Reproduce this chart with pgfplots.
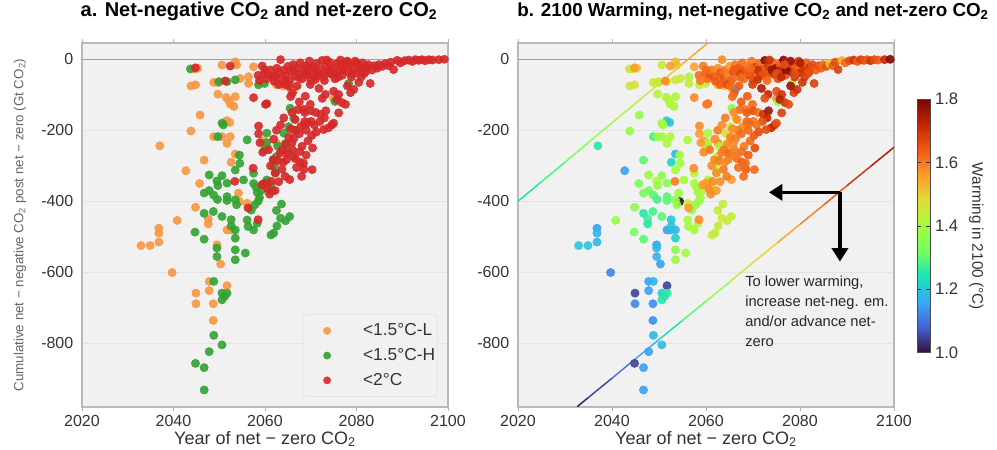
\documentclass[border=0pt]{standalone}
\usepackage{fontspec}
\setmainfont{Liberation Sans}
\usepackage{pgfplots}
\usepackage{pgfplotstable}
\pgfplotsset{compat=1.18}
\usetikzlibrary{arrows.meta}
\definecolor{bgc}{RGB}{241,241,241}
\definecolor{cor}{RGB}{246,152,66}
\definecolor{cgr}{RGB}{50,163,50}
\definecolor{cre}{RGB}{214,40,40}
\pgfplotsset{colormap={turbo}{rgb255=(48,18,59) rgb255=(70,98,216) rgb255=(54,170,249) rgb255=(26,228,182) rgb255=(114,254,94) rgb255=(164,252,60) rgb255=(225,221,55) rgb255=(254,155,45) rgb255=(240,91,18) rgb255=(196,37,3) rgb255=(122,4,3)}}

\pgfplotstableread{
x y w
2037.0 -244 1.25
2032.9 -525 1.20
2034.9 -525 1.20
2036.8 -515 1.18
2036.8 -476 1.15
2036.8 -490 1.18
2039.7 -601 1.12
2040.8 -454 1.38
2042.7 -314 1.15
2043.8 -202 1.38
2045.8 -157 1.38
2043.8 -75 1.45
2044.8 -72 1.47
2044.6 -27 1.47
2045.3 -25 1.50
2046.7 -284 1.30
2045.7 -350 1.33
2044.8 -417 1.36
2047.6 -450 1.28
2047.6 -464 1.25
2044.9 -659 1.05
2044.9 -689 1.12
2047.8 -626 1.15
2047.8 -652 1.15
2048.7 -689 1.13
2048.7 -736 1.13
2049.5 -523 1.15
2050.3 -577 1.15
2051.7 -638 1.05
2051.7 -481 1.15
2052.4 -481 1.18
2048.8 -65 1.45
2048.8 -218 1.28
2050.6 -218 1.40
2049.8 -66 1.45
2050.6 -16 1.45
2049.7 -98 1.42
2051.5 -107 1.42
2052.0 -115 1.42
2052.4 -126 1.40
2053.2 -133 1.42
2053.5 -105 1.42
2051.6 -173 1.22
2052.3 -178 1.20
2052.4 -218 1.40
2051.7 -237 1.40
2052.6 -290 1.22
2053.5 -267 1.18
2053.8 -16 1.50
2053.5 -7 1.52
2054.6 -54 1.45
2056.4 -49 1.42
2056.4 -68 1.45
2057.5 -21 1.55
2054.2 -377 1.40
2054.4 -401 1.00
2056.1 -406 1.45
2060.4 -246 1.52
2059.6 -230 1.55
2062.6 -237 1.58
2065.5 -82 1.52
2066.3 -85 1.15
2075.0 -111 1.58
2064.0 -75 1.52
2062.5 -72 1.52
}\orangedata

\pgfplotstableread{
x y w
2043.7 -27 1.45
2044.8 -857 1.05
2046.7 -869 1.15
2046.7 -932 1.15
2047.8 -824 1.15
2048.8 -778 1.18
2050.6 -805 1.18
2048.8 -626 1.18
2050.6 -659 1.22
2050.6 -678 1.25
2051.7 -659 1.25
2051.2 -668 1.25
2044.7 -487 1.33
2046.7 -507 1.30
2046.7 -434 1.25
2047.8 -326 1.38
2046.7 -377 1.33
2047.8 -370 1.32
2048.8 -383 1.30
2049.6 -395 1.28
2048.7 -429 1.28
2049.5 -343 1.40
2049.7 -356 1.38
2050.6 -328 1.36
2051.7 -349 1.35
2051.7 -387 1.30
2051.7 -398 1.30
2050.6 -180 1.40
2050.9 -185 1.40
2049.7 -218 1.38
2049.9 -63 1.45
2051.7 -63 1.45
2053.5 -58 1.45
2050.6 -443 1.30
2049.5 -532 1.18
2049.5 -556 1.18
2052.6 -452 1.20
2052.6 -470 1.20
2053.5 -481 1.18
2053.5 -504 1.22
2053.5 -537 1.36
2053.5 -565 1.38
2053.5 -396 1.36
2053.8 -410 1.38
2053.5 -312 1.40
2054.4 -270 1.40
2054.5 -293 1.40
2055.3 -340 1.40
2056.1 -227 1.40
2055.7 -546 1.40
2056.3 -471 1.40
2056.1 -453 1.40
2057.5 -481 1.40
2058.3 -462 1.42
2057.5 -321 1.42
2057.5 -350 1.40
2058.0 -360 1.40
2058.3 -375 1.38
2058.8 -390 1.40
2059.2 -370 1.42
2058.5 -400 1.38
2057.8 -410 1.38
2057.0 -425 1.38
2059.5 -352 1.42
2058.6 -72 1.45
2059.9 -68 1.45
2059.9 -255 1.40
2060.4 -208 1.40
2060.4 -235 1.42
2061.8 -283 1.42
2062.0 -300 1.42
2062.3 -321 1.42
2060.4 -340 1.42
2061.2 -356 1.42
2061.6 -371 1.42
2062.5 -274 1.42
2062.8 -245 1.42
2064.1 -208 1.46
2064.5 -237 1.42
2064.9 -258 1.42
2065.2 -190 1.46
2065.5 -138 1.36
2066.3 -166 1.46
2066.4 -200 1.42
2062.5 -426 1.44
2063.4 -448 1.46
2062.6 -470 1.44
2061.9 -490 1.44
2061.3 -495 1.44
2063.6 -408 1.44
2064.5 -455 1.44
2065.4 -443 1.44
2078.3 -68 1.40
2075.3 -119 1.38
}\greendata

\pgfplotstableread{
x y w
2058.5 -45 1.62
2059.4 -19 1.60
2059.8 -40 1.63
2060.3 -55 1.62
2060.8 -43 1.65
2061.2 -30 1.60
2061.8 -50 1.66
2062.3 -47 1.62
2062.6 -25 1.58
2063.0 -38 1.64
2063.4 -1 1.58
2063.8 -55 1.66
2064.2 -30 1.62
2064.6 -45 1.60
2065.0 -20 1.56
2065.4 -60 1.64
2065.8 -35 1.66
2066.2 -15 1.60
2066.6 -48 1.62
2067.0 -25 1.66
2067.3 -40 1.68
2067.7 -10 1.62
2068.1 -55 1.62
2068.5 -30 1.66
2068.9 -18 1.60
2069.3 -45 1.68
2069.7 -5 1.60
2070.1 -35 1.66
2070.5 -22 1.70
2070.9 -50 1.62
2071.3 -12 1.62
2071.7 -40 1.72
2072.1 -28 1.66
2072.5 -3 1.78
2072.9 -48 1.64
2073.3 -18 1.70
2073.7 -35 1.66
2074.1 -8 1.62
2074.5 -42 1.70
2074.9 -25 1.78
2075.3 -55 1.66
2075.7 -12 1.64
2076.1 -32 1.72
2076.5 -2 1.78
2076.9 -45 1.66
2077.3 -20 1.70
2077.7 -8 1.66
2078.1 -35 1.74
2078.5 -15 1.66
2078.9 -50 1.70
2079.3 -25 1.64
2079.7 -5 1.68
2080.1 -38 1.72
2080.5 -18 1.66
2080.9 -28 1.70
2081.3 -10 1.64
2081.7 -40 1.66
2082.1 -22 1.70
2082.6 -15 1.66
2083.0 -68 1.68
2083.4 -30 1.64
2083.9 -18 1.66
2084.5 -25 1.64
2084.9 -15 1.62
2085.6 -20 1.66
2086.3 -12 1.52
2087.0 -18 1.64
2087.5 -8 1.66
2088.1 -29 1.68
2088.9 -3 1.54
2089.6 -10 1.62
2090.5 -4 1.66
2091.4 -2 1.70
2092.2 -6 1.64
2092.9 -1 1.68
2093.6 -3 1.66
2094.3 -1 1.64
2095.0 -4 1.70
2095.8 -1 1.66
2096.6 -2 1.64
2098.0 -1 1.72
2099.2 0 1.79
2066.0 -28 1.64
2067.5 -52 1.62
2069.0 -38 1.64
2070.0 -60 1.66
2071.0 -30 1.70
2072.0 -45 1.66
2073.0 -60 1.62
2074.0 -30 1.76
2075.0 -40 1.66
2076.0 -50 1.72
2077.0 -30 1.78
2078.0 -5 1.76
2079.0 -40 1.66
2080.0 -10 1.74
2081.0 -50 1.68
2082.0 -35 1.66
2076.7 -15 1.66
2073.5 -2 1.70
2069.5 -25 1.62
2064.5 -65 1.62
2062.0 -62 1.64
2060.0 -30 1.62
2058.8 -60 1.60
2063.0 -71 1.64
2064.5 -71 1.66
2065.2 -75 1.62
2067.0 -75 1.64
2068.8 -104 1.64
2069.9 -71 1.68
2071.0 -57 1.70
2073.2 -99 1.72
2075.0 -90 1.66
2076.1 -99 1.70
2075.7 -113 1.74
2076.8 -122 1.70
2077.6 -127 1.66
2078.7 -94 1.68
2079.4 -85 1.70
2076.1 -151 1.68
2069.9 -127 1.62
2068.5 -141 1.60
2060.4 -125 1.62
2057.5 -108 1.58
2060.1 -127 1.60
2071.8 -82 1.74
2072.5 -110 1.66
2066.0 -95 1.64
2080.5 -65 1.70
2078.0 -75 1.76
2070.0 -145 1.66
2071.1 -150 1.62
2072.2 -155 1.70
2073.3 -145 1.76
2073.0 -165 1.72
2072.0 -175 1.66
2070.8 -185 1.62
2070.1 -175 1.60
2069.3 -180 1.62
2068.5 -185 1.60
2067.8 -190 1.58
2074.6 -185 1.70
2073.9 -193 1.72
2072.8 -198 1.66
2075.0 -180 1.66
2066.6 -170 1.58
2068.7 -175 1.62
2068.7 -150 1.64
2067.2 -142 1.62
2064.1 -165 1.60
2065.9 -150 1.58
2066.8 -200 1.60
2067.5 -210 1.62
2066.3 -223 1.60
2065.9 -235 1.58
2065.2 -220 1.60
2064.5 -240 1.58
2063.8 -255 1.60
2064.8 -265 1.62
2066.0 -255 1.60
2066.6 -280 1.62
2067.7 -290 1.64
2066.9 -305 1.62
2068.5 -310 1.64
2070.3 -311 1.62
2068.1 -245 1.60
2069.4 -230 1.62
2070.2 -215 1.64
2071.2 -205 1.66
2069.0 -200 1.62
2065.6 -196 1.58
2061.8 -283 1.58
2063.3 -264 1.60
2064.7 -283 1.60
2066.2 -274 1.60
2067.6 -260 1.62
2068.4 -293 1.62
2065.4 -339 1.56
2063.7 -310 1.60
2062.2 -320 1.58
2061.2 -300 1.58
2062.8 -286 1.60
2064.0 -290 1.58
2063.0 -345 1.58
2064.4 -330 1.60
2060.0 -349 1.56
2061.4 -344 1.58
2059.3 -354 1.56
2060.6 -365 1.58
2062.2 -370 1.56
2061.0 -380 1.58
2057.4 -307 1.58
2056.3 -419 1.56
2058.5 -452 1.58
2053.4 -344 1.60
2058.6 -188 1.58
2058.6 -210 1.56
2058.9 -235 1.56
2059.5 -262 1.58
2060.8 -255 1.60
2061.9 -225 1.58
2062.5 -200 1.60
2063.4 -185 1.58
2065.6 -105 1.62
2067.5 -120 1.64
2044.8 -24 1.56
2052.4 -19 1.56
2051.3 -61 1.58
2068.0 -330 1.62
2069.0 -270 1.64
2070.4 -250 1.66
}\reddata

\begin{document}
\begin{tikzpicture}
\pgfplotsset{
  panel/.style={
    scale only axis, height=273pt,
    xmin=2020, xmax=2100, ymin=-980, ymax=46,
    enlargelimits=false,
    xtick={2020,2040,2060,2080,2100},
    ytick={-800,-600,-400,-200,0},
    /pgf/number format/1000 sep={},
    /pgf/number format/assume math mode=true,
    axis background/.style={fill=bgc},
    axis line style={draw=gray!55, line width=0.8pt},
    ymajorgrids, grid style={draw=gray!22, line width=0.8pt},
    tick align=outside, xtick style={draw=gray!60, line width=0.6pt},
    ytick style={draw=none},
    major tick length=3pt,
    tick label style={font=\fontsize{12}{14}\selectfont, text=black!80},
    xlabel={Year of net − zero CO\textsubscript{2}},
    every axis x label/.style={at={(axis description cs:0.5,0)}, anchor=center, yshift=-24pt, font=\fontsize{13.5}{15}\selectfont, text=black!80},
    title style={anchor=base, yshift=0pt},
  }
}
% ---------------- panel a ----------------
\begin{axis}[panel, width=274.5pt, at={(0,0)}, anchor=south west,
  title={a. Net-negative CO\textsubscript{2} and net-zero CO\textsubscript{2}},
  title style={at={(0.4836,1)}, yshift=14pt, font=\bfseries\fontsize{15}{17}\selectfont},
  ylabel={Cumulative net − negative CO\textsubscript{2} post net − zero (Gt CO\textsubscript{2})},
  every axis y label/.style={at={(axis description cs:-0.1694,0.5)}, rotate=90, anchor=center, font=\fontsize{10}{12}\selectfont, text=black!60},
  legend style={at={(1,0)}, anchor=south east, xshift=-7.5pt, yshift=7.5pt, fill=bgc, draw=gray!25, rounded corners=3pt, font=\fontsize{13}{15}\selectfont, inner xsep=0pt, inner ysep=5pt, row sep=4pt, text=black!80},
  legend cell align=left,
  legend image code/.code={\path[draw=none, fill=none, rounded corners=0pt] (0pt,-3pt) rectangle (43pt,3pt); \fill[#1] (18pt,0pt) circle (2.7pt);},
]
\addplot[gray!75, line width=1.1pt, forget plot] coordinates {(2020,0) (2100,0)};
\addplot[only marks, mark=*, mark size=3.1pt, color=cor, fill opacity=0.9, draw opacity=0.9] table[x=x,y=y] \orangedata;
\addlegendentry{<1.5°C-L}
\addplot[only marks, mark=*, mark size=3.1pt, color=cgr, fill opacity=0.9, draw opacity=0.9] table[x=x,y=y] \greendata;
\addlegendentry{<1.5°C-H}
\addplot[only marks, mark=*, mark size=3.1pt, color=cre, fill opacity=0.9, draw opacity=0.9] table[x=x,y=y] \reddata;
\addlegendentry{<2°C}
\end{axis}
% ---------------- panel b ----------------
\begin{axis}[panel, width=282pt, at={(327pt,0)}, anchor=south west,
  title={b. 2100 Warming, net-negative CO\textsubscript{2} and net-zero CO\textsubscript{2}},
  title style={at={(0.625,1)}, yshift=14pt, font=\bfseries\fontsize{14.1}{17}\selectfont},
  colormap name=turbo, point meta min=1.0, point meta max=1.8,
  colorbar,
  colorbar style={at={(parent axis.north east)}, anchor=north west, xshift=9pt, yshift=-42pt,
    width=9.75pt, height=190pt,
    ytick={1.0,1.2,1.4,1.6,1.8},
    yticklabel style={font=\fontsize{12.5}{14}\selectfont, text=black!80, /pgf/number format/.cd, fixed, fixed zerofill, precision=1, assume math mode=true},
    ytick style={draw=black!80},
    major tick length=3pt,
    axis line style={draw=black!70, line width=0.5pt},
    ylabel={Warming in 2100 (°C)},
    ylabel style={at={(axis description cs:4.54,0.458)}, anchor=center, rotate=180, font=\fontsize{11.5}{13}\selectfont, text=black!80},
  },
]
\addplot[gray!75, line width=1.1pt, forget plot] coordinates {(2020,0) (2100,0)};
\addplot[mesh, point meta=explicit, line width=1.1pt, forget plot] coordinates {
 (2020,-400) [1.22] (2025,-345) [1.26] (2030,-290) [1.31] (2035,-234) [1.35] (2040,-179) [1.40]
 (2045,-124) [1.44] (2050,-69) [1.48] (2055,-13) [1.52] (2060.4,46) [1.56]};
\addplot[mesh, point meta=explicit, line width=1.1pt, forget plot] coordinates {
 (2032.6,-979) [1.00] (2035,-953) [1.03] (2040,-899) [1.08] (2045,-844) [1.13] (2050,-790) [1.20]
 (2055,-736) [1.27] (2060,-682) [1.34] (2065,-628) [1.40] (2070,-573) [1.46] (2075,-519) [1.52]
 (2080,-465) [1.57] (2085,-411) [1.62] (2090,-356) [1.67] (2095,-302) [1.72] (2100,-248) [1.77]};
\addplot[scatter, only marks, mark=*, mark size=3.1pt, scatter src=explicit,
  scatter/use mapped color={draw=mapped color, fill=mapped color}, fill opacity=0.9, draw opacity=0.9]
  table[x=x,y=y,meta=w] \orangedata;
\addplot[scatter, only marks, mark=*, mark size=3.1pt, scatter src=explicit,
  scatter/use mapped color={draw=mapped color, fill=mapped color}, fill opacity=0.9, draw opacity=0.9]
  table[x=x,y=y,meta=w] \greendata;
\addplot[scatter, only marks, mark=*, mark size=3.1pt, scatter src=explicit,
  scatter/use mapped color={draw=mapped color, fill=mapped color}, fill opacity=0.9, draw opacity=0.9]
  table[x=x,y=y,meta=w] \reddata;
\draw[line width=2.6pt, -{Triangle[length=10pt,width=12pt]}] (axis cs:2088.5,-375) -- (axis cs:2073.4,-375);
\draw[line width=2.6pt, -{Triangle[length=10pt,width=12pt]}] (axis cs:2088.5,-375) -- (axis cs:2088.5,-570);
\node[anchor=north west, align=left, font=\fontsize{11}{15}\selectfont, text=black!85, inner sep=0pt] at (axis cs:2068.3,-610)
  {To lower warming,\\increase net-neg. em.\\and/or advance net-\\zero};
\end{axis}
\pgfresetboundingbox
\path[use as bounding box] (-61.5pt,-32.25pt) rectangle (686.25pt,305.25pt);
\end{tikzpicture}
\end{document}
